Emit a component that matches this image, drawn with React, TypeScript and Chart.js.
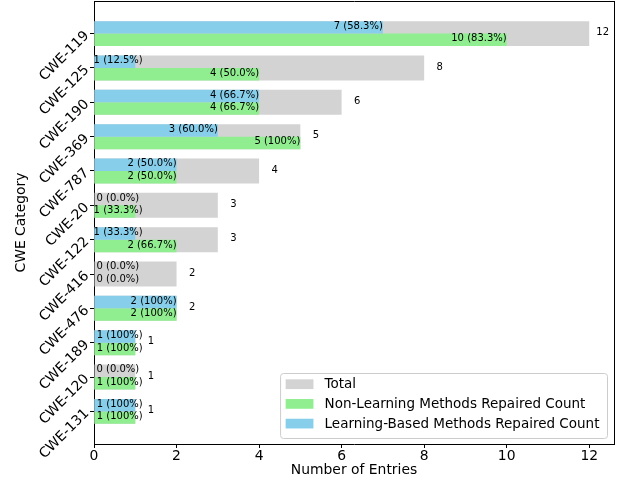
import { useEffect, useRef } from "react";
import { Chart, registerables } from "chart.js";

Chart.register(...registerables);

const categories = [
  "CWE-119", "CWE-125", "CWE-190", "CWE-369", "CWE-787", "CWE-20",
  "CWE-122", "CWE-416", "CWE-476", "CWE-189", "CWE-120", "CWE-131",
];
const totalCounts = [12, 8, 6, 5, 4, 3, 3, 2, 2, 1, 1, 1];
const nonLearningCounts = [10, 4, 4, 5, 2, 1, 2, 0, 2, 1, 1, 1];
const learningCounts = [7, 1, 4, 3, 2, 0, 1, 0, 2, 1, 0, 1];
const xTickValues = [0, 2, 4, 6, 8, 10, 12];
const seriesLabels = [
  "Total",
  "Non-Learning Methods Repaired Count",
  "Learning-Based Methods Repaired Count",
];

const FONT = "'DejaVu Sans', sans-serif";
const GRAY = "#d3d3d3";
const GREEN = "#90ee90";
const BLUE = "#87ceeb";

const CAT_PCT = 0.727;
const half = CAT_PCT / 2;
const extent = categories.length - 1 + 2 * half;
const Y_MIN = -half - 0.05 * extent;
const Y_MAX = categories.length - 1 + half + 0.05 * extent;
const X_MAX = Math.max(...totalCounts) * 1.05;
const TOTAL_LABEL_OFFSET = 0.3;
const LABEL_MIN_END = 1.18;

function pctText(v: number, t: number) {
  const p = (v / t) * 100;
  return `${v} (${p === 100 ? "100" : p.toFixed(1)}%)`;
}

const labelsPlugin = {
  id: "barLabels",
  afterDatasetsDraw(chart: any) {
    const { ctx, chartArea } = chart;
    const xs = chart.scales.x;
    ctx.save();
    ctx.font = `10px ${FONT}`;
    ctx.fillStyle = "#000";
    ctx.textBaseline = "middle";
    const totalMeta = chart.getDatasetMeta(0);
    totalMeta.data.forEach((bar: any, i: number) => {
      const txt = String(totalCounts[i]);
      const w = ctx.measureText(txt).width;
      let x = xs.getPixelForValue(totalCounts[i] + TOTAL_LABEL_OFFSET);
      x = Math.min(x, chartArea.right - 5 - w);
      ctx.textAlign = "left";
      ctx.fillText(txt, x, bar.y - 1);
    });
    [1, 2].forEach((di) => {
      const meta = chart.getDatasetMeta(di);
      const vals = di === 1 ? nonLearningCounts : learningCounts;
      meta.data.forEach((bar: any, i: number) => {
        const v = vals[i];
        const txt = pctText(v, totalCounts[i]);
        if (v === 0) {
          ctx.textAlign = "left";
          ctx.fillText(txt, chartArea.left + 2.5, bar.y - 1);
        } else {
          ctx.textAlign = "right";
          const x = Math.max(bar.x, xs.getPixelForValue(LABEL_MIN_END));
          ctx.fillText(txt, x, bar.y - 1);
        }
      });
    });
    ctx.restore();
  },
};

const overlayPlugin = {
  id: "frameAndLegend",
  afterDraw(chart: any) {
    const { ctx, chartArea } = chart;
    const fs = 13.9;
    const textSize = 13.5;
    ctx.save();
    ctx.font = `${textSize}px ${FONT}`;
    const ds = chart.data.datasets;
    const maxW = Math.max(...ds.map((d: any) => ctx.measureText(d.label).width));
    const pad = 0.4 * fs;
    const handleW = 2 * fs;
    const handleH = 0.7 * fs;
    const textPad = 0.8 * fs;
    const rowH = 19.7;
    const boxW = pad + handleW + textPad + maxW + pad + 2;
    const boxH = 65;
    const right = chartArea.right - 7;
    const bottom = chartArea.bottom - 6;
    const left = right - boxW;
    const top = bottom - boxH;
    ctx.beginPath();
    if ((ctx as any).roundRect) {
      (ctx as any).roundRect(left + 0.5, top + 0.5, boxW, boxH, 3);
    } else {
      ctx.rect(left + 0.5, top + 0.5, boxW, boxH);
    }
    ctx.fillStyle = "rgba(255,255,255,0.8)";
    ctx.fill();
    ctx.strokeStyle = "#cccccc";
    ctx.lineWidth = 1;
    ctx.stroke();
    ds.forEach((d: any, i: number) => {
      const cy = top + 11.2 + i * rowH;
      ctx.fillStyle = d.backgroundColor;
      ctx.fillRect(left + pad, cy - handleH / 2, handleW, handleH);
      ctx.fillStyle = "#000";
      ctx.textAlign = "left";
      ctx.textBaseline = "middle";
      ctx.fillText(d.label, left + pad + handleW + textPad, cy + 0.5);
    });
    ctx.restore();
  },
};

const hiddenAxis = (position: string, isX: boolean) => ({
  type: "linear",
  position,
  offset: false,
  min: isX ? 0 : Y_MIN,
  max: isX ? X_MAX : Y_MAX,
  ticks: { display: false },
  grid: { display: false, drawOnChartArea: false, drawTicks: false },
  border: { display: true, color: "#000", width: 1 },
  afterFit: (s: any) => {
    if (isX) {
      s.height = 0;
      s.paddingLeft = 0;
      s.paddingRight = 0;
    } else {
      s.width = 0;
      s.paddingTop = 0;
      s.paddingBottom = 0;
    }
  },
});

export default function App() {
  const canvasRef = useRef<HTMLCanvasElement>(null);

  useEffect(() => {
    const canvas = canvasRef.current;
    if (!canvas) return;
    const tickFont = { family: FONT, size: 13.9 };
    const chart = new Chart(canvas, {
      type: "bar",
      data: {
        datasets: [
          {
            label: seriesLabels[0],
            data: totalCounts.map((v, i) => ({ x: v, y: i })),
            backgroundColor: GRAY,
            grouped: false,
            order: 3,
            xAxisID: "x",
            yAxisID: "y",
          } as any,
          {
            label: seriesLabels[1],
            data: nonLearningCounts.map((v, i) => ({ x: v, y: i })),
            backgroundColor: GREEN,
            order: 2,
            xAxisID: "x",
            yAxisID: "y",
          },
          {
            label: seriesLabels[2],
            data: learningCounts.map((v, i) => ({ x: v, y: i })),
            backgroundColor: BLUE,
            order: 1,
            xAxisID: "x",
            yAxisID: "y",
          },
        ],
      },
      options: {
        indexAxis: "y",
        responsive: false,
        animation: false,
        devicePixelRatio: 1,
        datasets: {
          bar: { categoryPercentage: CAT_PCT, barPercentage: 1, borderWidth: 0 },
        },
        layout: { padding: { top: 1, right: 5, left: 0, bottom: 0 } },
        plugins: {
          legend: { display: false },
          tooltip: { enabled: false },
        },
        scales: {
          x: {
            type: "linear",
            position: "bottom",
            offset: false,
            min: 0,
            max: X_MAX,
            afterBuildTicks: (s: any) => {
              s.ticks = xTickValues.map((v) => ({ value: v }));
            },
            afterFit: (s: any) => {
              s.height = 36;
              s.paddingLeft = 0;
              s.paddingRight = 0;
            },
            ticks: {
              color: "#000",
              font: tickFont,
              padding: 0.5,
              maxRotation: 0,
              autoSkip: false,
            },
            grid: {
              display: true,
              offset: false,
              drawOnChartArea: false,
              drawTicks: true,
              tickLength: 4,
              color: "#000",
              lineWidth: 1,
            },
            border: { display: true, color: "#000", width: 1 },
            title: {
              display: true,
              text: "Number of Entries",
              color: "#000",
              font: { family: FONT, size: 13.9 },
              padding: { top: 0, bottom: 1 },
            },
          },
          xTop: hiddenAxis("top", true),
          y: {
            type: "linear",
            reverse: true,
            offset: false,
            min: Y_MIN,
            max: Y_MAX,
            afterBuildTicks: (s: any) => {
              s.ticks = categories.map((_, i) => ({ value: i }));
            },
            afterFit: (s: any) => {
              s.width = 94;
              s.paddingTop = 0;
              s.paddingBottom = 0;
            },
            ticks: {
              color: "#000",
              font: tickFont,
              padding: 3,
              minRotation: 45,
              maxRotation: 45,
              autoSkip: false,
              callback: (v: any) => categories[v as number] ?? "",
            },
            grid: {
              display: true,
              offset: false,
              drawOnChartArea: false,
              drawTicks: true,
              tickLength: 4,
              color: "#000",
              lineWidth: 1,
            },
            border: { display: true, color: "#000", width: 1 },
            title: {
              display: true,
              text: "CWE Category",
              color: "#000",
              font: { family: FONT, size: 13.9 },
              padding: { top: 12.7, bottom: 0 },
            },
          },
          yRight: hiddenAxis("right", false),
        },
      } as any,
      plugins: [labelsPlugin, overlayPlugin],
    });
    return () => chart.destroy();
  }, []);

  return (
    <div style={{ position: "absolute", left: 0, top: 0, width: 619, height: 480, background: "#fff" }}>
      <canvas ref={canvasRef} width={619} height={480} style={{ display: "block" }} />
    </div>
  );
}
